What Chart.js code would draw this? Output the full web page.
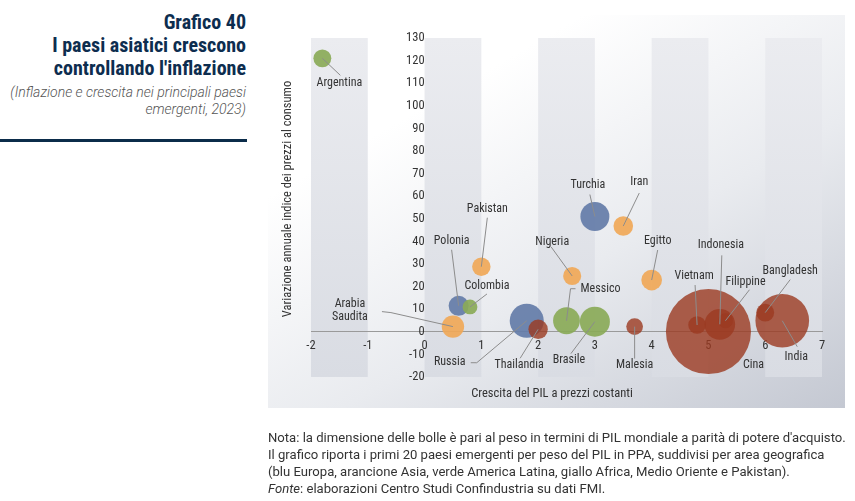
<!DOCTYPE html>
<html>
<head>
<meta charset="utf-8">
<script src="https://cdn.jsdelivr.net/npm/chart.js@4.4.1/dist/chart.umd.min.js"></script>
<style>
  body { margin: 0; background: #fff; }
  #wrap { position: relative; width: 855px; height: 501px; overflow: hidden;
          font-family: "Roboto Condensed", "Liberation Sans Narrow", "DejaVu Sans Condensed", sans-serif; }
  #panel { position: absolute; left: 268px; top: 15px; width: 577px; height: 393px;
           background: linear-gradient(150deg, #ffffff 25%, #e9ebef 60%, #c4c8d2 100%); }
  #c { position: absolute; left: 0; top: 0; }
  #title { position: absolute; left: 0; top: 11px; width: 246px; text-align: right;
           color: #0d2d4f; font-weight: bold; font-size: 20px; line-height: 23px; }
  #sub { position: absolute; left: 0; top: 84px; width: 246px; text-align: right;
         color: #555; font-family: Roboto, sans-serif; font-style: italic; font-size: 14px;
         line-height: 17px; font-weight: 300; }
  #rule { position: absolute; left: 0; top: 139px; width: 247px; height: 3px; background: #0b2c4a; }
  #note { position: absolute; left: 268px; top: 429px; width: 600px; color: #333;
          font-family: Roboto, sans-serif; font-size: 13.1px; line-height: 17px; white-space: nowrap; }
</style>
</head>
<body>
<div id="wrap">
  <div id="title">Grafico 40<br>I paesi asiatici crescono<br>controllando l'inflazione</div>
  <div id="sub">(Inflazione e crescita nei principali paesi<br>emergenti, 2023)</div>
  <div id="rule"></div>
  <div id="panel"></div>
  <canvas id="c" width="855" height="501"></canvas>
  <div id="note">Nota: la dimensione delle bolle è pari al peso in termini di PIL mondiale a parità di potere d'acquisto.<br>
Il grafico riporta i primi 20 paesi emergenti per peso del PIL in PPA, suddivisi per area geografica<br>
(blu Europa, arancione Asia, verde America Latina, giallo Africa, Medio Oriente e Pakistan).<br>
<i>Fonte</i>: elaborazioni Centro Studi Confindustria su dati FMI.</div>
</div>
<script>
// dati
var countries = ['Argentina', 'Polonia', 'Colombia', 'Pakistan', 'Arabia Saudita', 'Russia', 'Thailandia',
  'Messico', 'Brasile', 'Turchia', 'Iran', 'Nigeria', 'Egitto', 'Malesia', 'Cina', 'Vietnam',
  'Indonesia', 'Filippine', 'Bangladesh', 'India'];
var growth = [-1.8, 0.6, 0.8, 1.0, 0.5, 1.8, 2.0, 2.5, 3.0, 3.0, 3.5, 2.6, 4.0, 3.7, 5.0, 4.8, 5.2, 5.3, 6.0, 6.3];
var inflation = [121, 11.5, 11, 28.8, 2.3, 4.9, 1.1, 4.9, 4.5, 51, 46.8, 24.7, 22.9, 2.3, 0.1, 3.0, 3.3, 4.9, 8.5, 4.9];
var gdpWeight = [0.8, 1.0, 0.55, 0.85, 1.25, 2.9, 0.94, 1.8, 2.25, 2.1, 0.96, 0.82, 1.07, 0.7, 18.1, 0.78, 2.35, 0.55, 0.8, 7.2];
var area = ['AL', 'EU', 'AL', 'AM', 'AM', 'EU', 'AS', 'AL', 'AL', 'EU', 'AM', 'AM', 'AM', 'AS', 'AS', 'AS',
  'AS', 'AS', 'AS', 'AS'];
var xTicks = [-2, -1, 0, 1, 2, 3, 4, 5, 6, 7];
var bandStarts = [-2, 0, 2, 4, 6];

var areaColors = {
  AS: 'rgba(155,58,32,0.8)',
  AL: 'rgba(138,170,88,0.92)',
  AM: 'rgba(240,168,88,0.92)',
  EU: 'rgba(100,124,168,0.92)'
};

// posizione etichette (offset in px dal centro della bolla) e linee di richiamo
var labelLayout = {
  'Argentina': { t: [17, 25], l: [[18, 17]] },
  'Polonia': { t: [-7, -65], l: [[-7, -56]] },
  'Colombia': { t: [17, -21], l: [[17, -13]] },
  'Pakistan': { t: [6, -58], l: [[6, -49]] },
  'Arabia Saudita': { t: [-103, -16], l: [[-62, -14], [-71, -15]], lines: ['Arabia', 'Saudita'] },
  'Russia': { t: [-77, 41], l: [[-50, 42], [-56, 42]] },
  'Thailandia': { t: [-19, 36], l: [[-18, 29]] },
  'Messico': { t: [34, -32], l: [[4, -32], [9, -32]] },
  'Brasile': { t: [-26, 38], l: [[-24, 32]] },
  'Turchia': { t: [-7, -32], l: [[-5, -22]] },
  'Iran': { t: [16, -44], l: [[16, -33]] },
  'Nigeria': { t: [-20, -34], l: [[-21, -29]] },
  'Egitto': { t: [6, -39], l: [[6, -30]] },
  'Malesia': { t: [0, 38], l: [[0, 32]] },
  'Cina': { t: [45, 33], l: [] },
  'Vietnam': { t: [-3, -49], l: [[-2, -40]] },
  'Indonesia': { t: [1, -79], l: [[2, -69]] },
  'Filippine': { t: [20, -39], l: [[24, -31]] },
  'Bangladesh': { t: [25, -42], l: [[25, -33]] },
  'India': { t: [14, 36], l: [[15, 26]] }
};

var FONT = '"Roboto Condensed", "Liberation Sans Narrow", "DejaVu Sans Condensed", sans-serif';

function buildDataset(code) {
  var pts = [];
  for (var i = 0; i < countries.length; i++) {
    if (area[i] !== code) continue;
    pts.push({ x: growth[i], y: inflation[i], r: Math.sqrt(gdpWeight[i]) * 10, name: countries[i] });
  }
  // bolle grandi sotto
  pts.sort(function(a, b) { return b.r - a.r; });
  return { label: code, data: pts, backgroundColor: areaColors[code], borderWidth: 0, hoverBorderWidth: 0 };
}

// fasce verticali grigie, sotto assi e bolle
var bands = {
  id: 'bands',
  beforeDraw: function(chart) {
    var ctx = chart.ctx, xs = chart.scales.x, ys = chart.scales.y;
    var top = ys.getPixelForValue(130), bot = ys.getPixelForValue(-20);
    var g = ctx.createLinearGradient(0, top, 0, bot);
    g.addColorStop(0, '#ebecf0');
    g.addColorStop(1, '#d9dce3');
    ctx.save();
    ctx.fillStyle = g;
    bandStarts.forEach(function(b) {
      var l = xs.getPixelForValue(b), r = xs.getPixelForValue(b + 1);
      ctx.fillRect(l, top, r - l, bot - top);
    });
    ctx.restore();
  }
};

var labels = {
  id: 'labels',
  afterDatasetsDraw: function(chart) {
    var ctx = chart.ctx;
    ctx.save();
    ctx.font = '12px ' + FONT;
    ctx.textAlign = 'center';
    ctx.textBaseline = 'middle';
    chart.data.datasets.forEach(function(ds, di) {
      var meta = chart.getDatasetMeta(di);
      ds.data.forEach(function(p, i) {
        var el = meta.data[i], lay = labelLayout[p.name];
        if (!lay) return;
        if (lay.l.length) {
          ctx.beginPath();
          ctx.strokeStyle = '#8c8c8c';
          ctx.lineWidth = 1;
          ctx.moveTo(el.x, el.y);
          lay.l.forEach(function(q) { ctx.lineTo(el.x + q[0], el.y + q[1]); });
          ctx.stroke();
        }
        ctx.fillStyle = '#333';
        var txt = lay.lines || [p.name];
        txt.forEach(function(s, k) {
          ctx.fillText(s, el.x + lay.t[0], el.y + lay.t[1] + (k - (txt.length - 1) / 2) * 13);
        });
      });
    });
    // titoli assi
    ctx.fillStyle = '#333';
    ctx.font = '12.5px ' + FONT;
    ctx.fillText('Crescita del PIL a prezzi costanti', 552, 394);
    ctx.translate(288, 199);
    ctx.rotate(-Math.PI / 2);
    ctx.fillText('Variazione annuale indice dei prezzi al consumo', 0, 0);
    ctx.restore();
  }
};

new Chart(document.getElementById('c'), {
  type: 'bubble',
  data: { datasets: [buildDataset('AS'), buildDataset('AL'), buildDataset('AM'), buildDataset('EU')] },
  options: {
    responsive: false,
    animation: false,
    layout: { autoPadding: false, padding: { left: 311, top: 38, right: 33, bottom: 124 } },
    plugins: { legend: { display: false }, tooltip: { enabled: false } },
    scales: {
      x: {
        type: 'linear', min: -2, max: 7, position: { y: 0 },
        afterBuildTicks: function(s) { s.ticks = xTicks.map(function(v) { return { value: v }; }); },
        grid: { display: false, drawTicks: false },
        border: { display: true, color: '#9a9a9a', width: 1 },
        ticks: { color: '#333', padding: 7, font: { family: FONT, size: 12.5 } }
      },
      y: {
        type: 'linear', min: -20, max: 130, position: { x: 0 },
        grid: { display: false, drawTicks: false },
        border: { display: false },
        ticks: { stepSize: 10, color: '#333', padding: 10, font: { family: FONT, size: 12.5 } }
      }
    }
  },
  plugins: [bands, labels]
});
</script>
</body>
</html>
